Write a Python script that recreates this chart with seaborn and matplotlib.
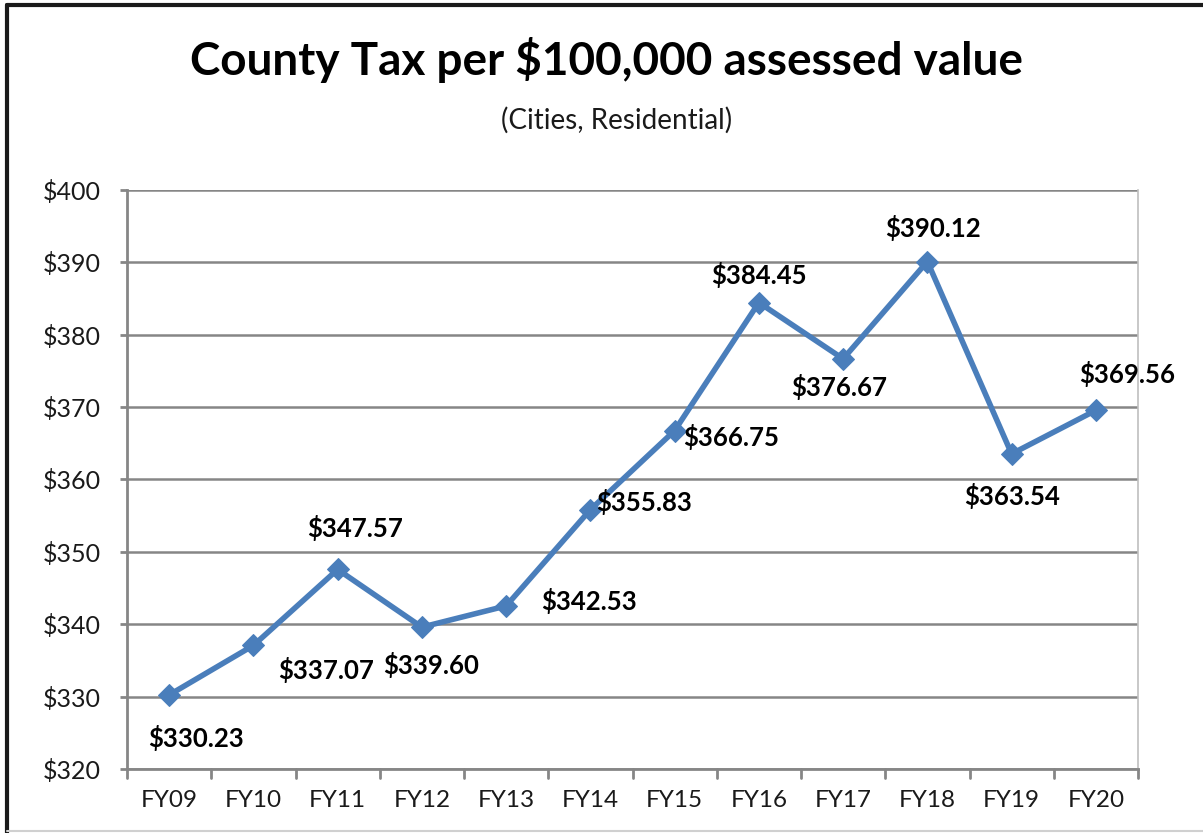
import matplotlib
matplotlib.use("Agg")
import matplotlib.pyplot as plt
import seaborn as sns
import pandas as pd
from matplotlib.lines import Line2D

years = ["FY09", "FY10", "FY11", "FY12", "FY13", "FY14",
         "FY15", "FY16", "FY17", "FY18", "FY19", "FY20"]
tax = [330.23, 337.07, 347.57, 339.60, 342.53, 355.83,
       366.75, 384.45, 376.67, 390.12, 363.54, 369.56]

# label offsets in pixels (dx, dy) relative to each point
label_offsets = [(27, -43), (73, -25), (17, 41), (9, -38), (83, 5), (54, 8),
                 (57, -6), (0, 28), (-4, -28), (6, 34), (0, -42), (31, 36)]

df = pd.DataFrame({"year": years, "tax": tax})

sns.set_style("white")
plt.rcParams["font.family"] = ["Lato", "DejaVu Sans"]

fig = plt.figure(figsize=(12.03, 8.33), dpi=100)
ax = fig.add_axes([127 / 1203, 1 - 769 / 833, (1138 - 127) / 1203, (769 - 190) / 833])

sns.lineplot(data=df, x="year", y="tax", ax=ax, color="#4A7EBB", linewidth=4,
             marker="D", markersize=11, markeredgecolor="#4A7EBB", sort=False)

for i, (v, (dx, dy)) in enumerate(zip(tax, label_offsets)):
    ax.annotate(f"${v:.2f}", (i, v), xytext=(dx, dy), textcoords="offset pixels",
                ha="center", va="center", fontsize=18.5, fontweight="bold", color="black")

ax.set_ylim(320, 400)
ax.set_xlim(-0.5, len(years) - 0.5)
ax.set_yticks(range(320, 401, 10))
ax.set_yticklabels([f"${t}" for t in range(320, 401, 10)], fontsize=18, color="#1a1a1a")
ax.set_xticks(range(len(years)))
ax.set_xticklabels(years, fontsize=17.5, color="#1a1a1a")
ax.tick_params(axis="x", length=0, pad=15)
ax.tick_params(axis="y", length=5, width=2, color="#868686", pad=14, direction="out", left=True)

# category boundary ticks below the x axis
for b in range(len(years) + 1):
    ax.plot([b - 0.5, b - 0.5], [0, -0.016], transform=ax.get_xaxis_transform(),
            color="#868686", lw=2, clip_on=False)

ax.grid(axis="y", color="#868686", lw=1.8)
ax.set_axisbelow(True)
ax.set_xlabel("")
ax.set_ylabel("")
for s in ["left", "bottom"]:
    ax.spines[s].set_color("#868686")
    ax.spines[s].set_linewidth(2)
ax.spines["top"].set_visible(False)
ax.spines["right"].set_color("#BFBFBF")
ax.spines["right"].set_linewidth(1.2)

fig.text(607 / 1203, 1 - 60 / 833, "County Tax per $100,000 assessed value",
         ha="center", va="center", fontsize=33, fontweight="bold", color="black")
fig.text(617 / 1203, 1 - 120 / 833, "(Cities, Residential)",
         ha="center", va="center", fontsize=20, color="#1a1a1a")

# outer chart frame
fig.add_artist(Line2D([7 / 1203, 7 / 1203], [0, 1 - 5 / 833], transform=fig.transFigure,
                      color="#1a1a1a", lw=3))
fig.add_artist(Line2D([7 / 1203, 1], [1 - 5 / 833, 1 - 5 / 833], transform=fig.transFigure,
                      color="#1a1a1a", lw=3))
fig.add_artist(Line2D([7 / 1203, 1], [1 - 831 / 833, 1 - 831 / 833], transform=fig.transFigure,
                      color="#D0D0D0", lw=1.5))

fig.savefig("out.png", dpi=100)
